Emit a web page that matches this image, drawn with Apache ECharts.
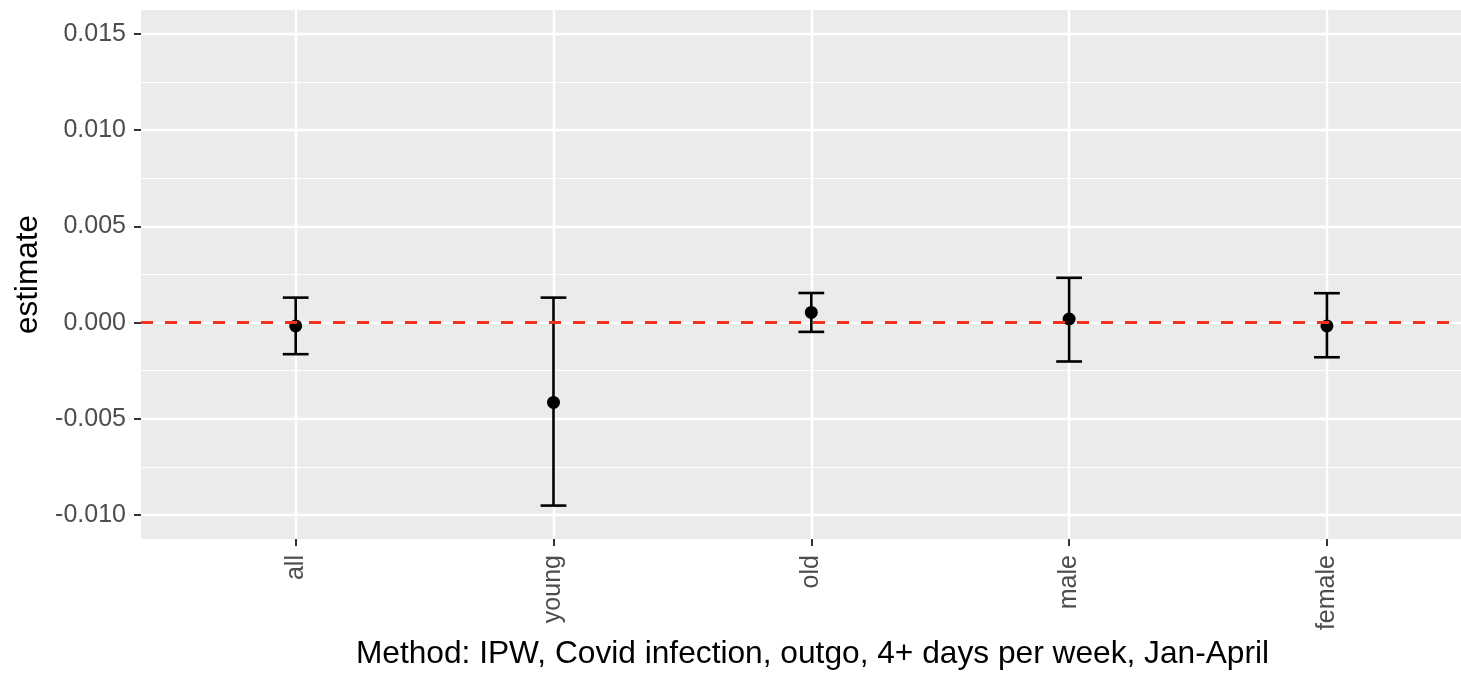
<!DOCTYPE html>
<html>
<head>
<meta charset="utf-8">
<script src="https://cdn.jsdelivr.net/npm/echarts@6/dist/echarts.min.js"></script>
<style>
  html, body { margin: 0; padding: 0; background: #ffffff; overflow: hidden; }
  #chart { width: 1461px; height: 675px; }
</style>
</head>
<body>
<div id="chart"></div>
<script>
// ---- data ----
const categories = ['all', 'young', 'old', 'male', 'female'];
const estimates  = [-0.00017, -0.00415, 0.00053, 0.00019, -0.00017];
const lowerCI    = [-0.00164, -0.00951, -0.00048, -0.00202, -0.00180];
const upperCI    = [0.00130, 0.00130, 0.00154, 0.00233, 0.00153];
const yTickValues  = [-0.010, -0.005, 0.000, 0.005, 0.010, 0.015];
const yMinorValues = [-0.0075, -0.0025, 0.0025, 0.0075, 0.0125];
const referenceValue = 0;
const xTitle = 'Method: IPW, Covid infection, outgo, 4+ days per week, Jan-April';
const yTitle = 'estimate';

const FONT = '"Liberation Sans", Arial, Helvetica, sans-serif';
const catIdx = categories.map((c, i) => i);

const chart = echarts.init(document.getElementById('chart'), null, { renderer: 'canvas', width: 1461, height: 675 });

const option = {
  backgroundColor: '#ffffff',
  animation: false,
  grid: {
    left: 141, top: 10, height: 535, right: 0,
    show: true, backgroundColor: '#EBEBEB', borderWidth: 0,
    containLabel: false
  },
  xAxis: {
    type: 'value',
    min: -0.6, max: 4.52,
    name: xTitle,
    nameLocation: 'middle',
    nameGap: 96,
    nameTextStyle: { fontFamily: FONT, fontSize: 31.7, color: '#000000', padding: [0, 0, 0, 23] },
    axisLine: { show: false, onZero: false },
    axisTick: { show: true, length: 7, lineStyle: { color: '#333333', width: 2 }, customValues: catIdx },
    axisLabel: {
      show: true, rotate: 90, margin: 16,
      fontFamily: FONT, fontSize: 25, color: '#4D4D4D',
      padding: [16, 0, 0, 0],
      customValues: catIdx,
      formatter: v => categories[Math.round(v)] ?? ''
    },
    splitLine: { show: true, lineStyle: { color: '#ffffff', width: 2.4 } }
  },
  yAxis: [{
    type: 'value',
    min: -0.01125, max: 0.01625,
    name: yTitle,
    nameLocation: 'middle',
    nameGap: 89,
    nameRotate: 90,
    nameTextStyle: { fontFamily: FONT, fontSize: 31.5, color: '#000000' },
    axisLine: { show: false, onZero: false },
    axisTick: { show: true, length: 7, lineStyle: { color: '#333333', width: 2 }, customValues: yTickValues },
    axisLabel: {
      show: true, margin: 15,
      fontFamily: FONT, fontSize: 25, color: '#4D4D4D',
      customValues: yTickValues,
      formatter: v => v.toFixed(3)
    },
    splitLine: { show: true, lineStyle: { color: '#ffffff', width: 2.4 } }
  }, {
    type: 'value',
    min: -0.01125, max: 0.01625,
    position: 'left',
    axisLine: { show: false, onZero: false },
    axisTick: { show: false, customValues: yMinorValues },
    axisLabel: { show: false, customValues: yMinorValues },
    splitLine: { show: true, lineStyle: { color: '#ffffff', width: 1.2 } }
  }],
  series: [
    {
      type: 'custom',
      name: 'ci',
      z: 3,
      data: catIdx.map(i => [i, lowerCI[i], upperCI[i]]),
      renderItem: function (params, api) {
        const x = api.value(0);
        const lo = api.coord([x, api.value(1)]);
        const hi = api.coord([x, api.value(2)]);
        const half = api.size([0.1, 0])[0] / 2;
        const style = { stroke: '#000000', lineWidth: 2.6, fill: null };
        return {
          type: 'group',
          children: [
            { type: 'line', shape: { x1: lo[0], y1: lo[1], x2: hi[0], y2: hi[1] }, style: style },
            { type: 'line', shape: { x1: hi[0] - half, y1: hi[1], x2: hi[0] + half, y2: hi[1] }, style: style },
            { type: 'line', shape: { x1: lo[0] - half, y1: lo[1], x2: lo[0] + half, y2: lo[1] }, style: style }
          ]
        };
      },
      markLine: {
        silent: true,
        symbol: ['none', 'none'],
        label: { show: false },
        lineStyle: { color: '#F5321C', width: 3, type: [12, 12], opacity: 1 },
        data: [{ yAxis: referenceValue }]
      }
    },
    {
      type: 'scatter',
      name: 'estimate',
      z: 4,
      symbol: 'circle',
      symbolSize: 13,
      itemStyle: { color: '#000000', opacity: 1 },
      data: catIdx.map(i => [i, estimates[i]])
    }
  ]
};

chart.setOption(option);
</script>
</body>
</html>
